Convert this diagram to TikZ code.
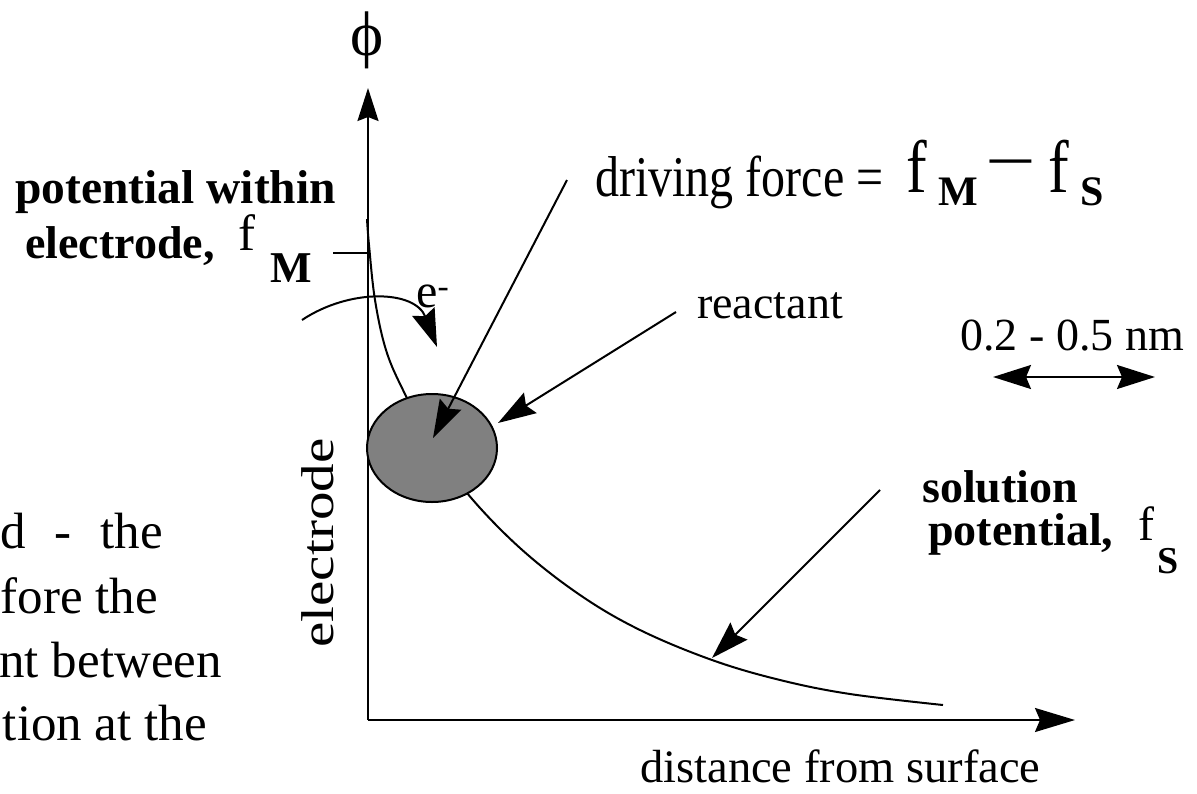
\documentclass[tikz,border=0pt]{standalone}
\usepackage{fontspec}
\setmainfont{Liberation Serif}
\usetikzlibrary{arrows.meta,shapes.geometric}
\begin{document}
\begin{tikzpicture}[x=1pt,y=-1pt,
  lbl/.style={anchor=base west, inner sep=0pt, font=\fontsize{46}{52}\selectfont},
  blbl/.style={anchor=base west, inner sep=0pt, font=\fontsize{46}{52}\selectfont\bfseries},
  body/.style={anchor=base east, inner sep=0pt, font=\fontsize{51}{56}\selectfont},
  ln/.style={line width=2pt},
  arr/.style={ln, -{Stealth[length=38pt,width=24pt,inset=5pt]}},
  yarr/.style={ln, -{Stealth[length=33pt,width=21pt,inset=4pt]}},
  xarr/.style={ln, -{Stealth[length=40pt,width=24pt,inset=5pt]}},
  darr/.style={ln, {Stealth[length=38pt,width=24pt,inset=5pt]}-{Stealth[length=38pt,width=24pt,inset=5pt]}},
]
\useasboundingbox (0,0) rectangle (1197,793);
\clip (0,0) rectangle (1197,793);
% axes
\coordinate (origin) at (368,720);
\coordinate (ytip) at (368,88);
\coordinate (xtip) at (1075,720);
\draw[yarr] (origin) -- (ytip);
\draw[xarr] (origin) -- (xtip);
\node[inner sep=0pt, font=\fontsize{63}{63}\selectfont] (phi) at (367,40) {\symbol{"03D5}};
\node[lbl, font=\fontsize{46.5}{52}\selectfont] (dist) at (640,782) {distance from surface};
\node[inner sep=0pt, font=\fontsize{46}{52}\selectfont, rotate=90, anchor=center] (electrode) at (318,543) {\scalebox{1.24}[1]{electrode}};
% potential curve
\draw[ln] plot[smooth, tension=0.6] coordinates {(367,219) (369,245) (375,300) (386,350) (403,390) (430,440) (467,493) (520,548) (580,595) (640,630) (712,660) (780,680) (850,694) (943,705)};
% reactant
\node[ellipse, draw, line width=2pt, fill=gray, minimum width=130pt, minimum height=108pt, inner sep=0pt] (react) at (432,448) {};
% left label
\node[blbl, font=\fontsize{47.5}{52}\selectfont\bfseries] (pw1) at (15,203) {potential within};
\node[blbl] (pw2) at (25,258) {electrode,};
\node[lbl, font=\fontsize{51}{51}\selectfont] (fM1) at (238,250) {f};
\node[blbl, font=\fontsize{44}{44}\selectfont\bfseries] (M1) at (270,282) {M};
\coordinate (tickL) at (333,253);
\coordinate (tickR) at (368,253);
\draw[ln] (tickL) -- (tickR);
% electron transfer
\node[lbl, font=\fontsize{48}{52}\selectfont] (e) at (416,307) {e\textsuperscript{-}};
\coordinate (e0) at (302,320);
\coordinate (e1) at (437,347);
\draw[arr] (e0) .. controls (350,288) and (415,290) .. (e1);
% driving force
\node[lbl, font=\fontsize{48}{52}\selectfont] (df) at (595,196) {\scalebox{1}[1.2]{driving force =}};
\node[lbl, font=\fontsize{62}{62}\selectfont] (df1) at (906,192) {\scalebox{1}[1.2]{f}};
\node[blbl, font=\fontsize{42}{42}\selectfont\bfseries] (df2) at (938,205) {M};
\node[lbl, font=\fontsize{60}{60}\selectfont] (df3) at (985,183) {\scalebox{1.5}[1.1]{−}};
\node[lbl, font=\fontsize{62}{62}\selectfont] (df4) at (1048,192) {\scalebox{1}[1.2]{f}};
\node[blbl, font=\fontsize{42}{42}\selectfont\bfseries] (df5) at (1080,205) {S};
\coordinate (dfs) at (567,180);
\coordinate (dft) at (433,438);
\draw[arr] (dfs) -- (dft);
% reactant label
\node[lbl] (rl) at (697,318) {reactant};
\coordinate (rs) at (676,312);
\coordinate (rt) at (498,423);
\draw[arr] (rs) -- (rt);
% distance
\node[lbl] (nm) at (960,350) {0.2 - 0.5 nm};
\coordinate (dl) at (993,377);
\coordinate (dr) at (1155,377);
\draw[darr] (dl) -- (dr);
% solution potential
\node[blbl] (sp1) at (922,502) {solution};
\node[blbl] (sp2) at (928,545) {potential,};
\node[lbl, font=\fontsize{48}{48}\selectfont] (fS) at (1138,540) {f};
\node[blbl, font=\fontsize{38}{38}\selectfont\bfseries] (S2) at (1157,573) {S};
\coordinate (ss) at (880,490);
\coordinate (st) at (712,658);
\draw[arr] (ss) -- (st);
% cut-off body text
\node[body] (t1) at (163,548) {d\hspace{29pt}-\hspace{29pt}the};
\node[body] (t2) at (158,613) {fore the};
\node[body] (t3) at (222,677) {nt between};
\node[body] (t4) at (207,740) {tion at the};
\end{tikzpicture}
\end{document}
